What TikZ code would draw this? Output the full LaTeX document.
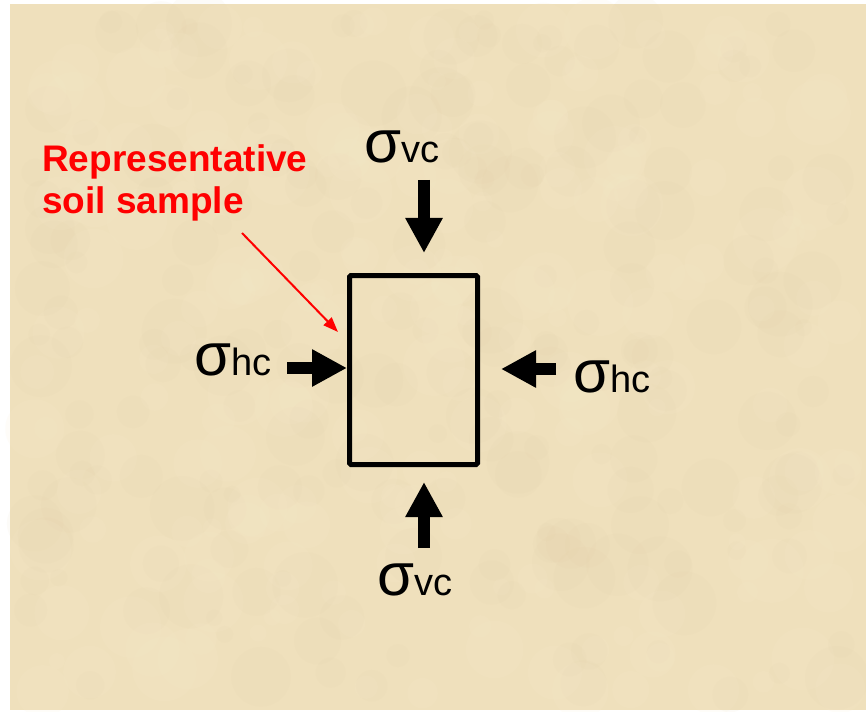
\documentclass[tikz,border=0pt]{standalone}
\usepackage{fontspec}
\setmainfont{Liberation Sans}
\usepackage{tikz}
\usetikzlibrary{positioning,arrows.meta}
\definecolor{parch}{RGB}{239,224,188}
\definecolor{parchdark}{RGB}{222,202,160}
\definecolor{parchlight}{RGB}{248,236,205}
\newcommand{\stresslab}[1]{{\fontsize{60}{60}\selectfont σ}{\fontsize{38}{38}\selectfont #1}}

\begin{document}
\begin{tikzpicture}[x=1pt, y=-1pt,
  sample/.style={draw, line width=5pt, rounded corners=1.5pt, minimum width=128pt, minimum height=189pt, inner sep=0pt},
  lab/.style={inner sep=0pt, anchor=base west},
  push/.style={line width=12pt, -{Triangle[length=35pt, width=35pt]}},
  ptr/.style={red, line width=2pt, -{Triangle[length=15pt, width=11pt]}}]
% page and parchment
\useasboundingbox (0,0) rectangle (866,711);
\fill[white] (0,0) rectangle (866,711);
\fill[parch] (10,4) rectangle (866,710);
\pgfmathsetseed{11}
\foreach \i in {1,...,220} {
  \pgfmathsetmacro{\px}{30+rnd*820}
  \pgfmathsetmacro{\py}{20+rnd*675}
  \pgfmathsetmacro{\pr}{8+rnd*25}
  \fill[parchdark, opacity=0.07] (\px,\py) circle[radius=\pr];
}
\foreach \i in {1,...,220} {
  \pgfmathsetmacro{\px}{30+rnd*820}
  \pgfmathsetmacro{\py}{20+rnd*675}
  \pgfmathsetmacro{\pr}{8+rnd*25}
  \fill[parchlight, opacity=0.12] (\px,\py) circle[radius=\pr];
}
% soil sample
\node[sample] (box) at (413.5,370) {};
% stresses
\node[lab] (svct) at (364,163) {\stresslab{vc}};
\node[lab] (svcb) at (377,595) {\stresslab{vc}};
\node[lab] (shcl) at (194,375) {\stresslab{hc}};
\node[lab] (shcr) at (573,392) {\stresslab{hc}};
\coordinate (vt0) at (424,180); \coordinate (vt1) at (424,253);
\coordinate (vb0) at (424,548); \coordinate (vb1) at (424,482);
\coordinate (hl0) at (287,368); \coordinate (hl1) at (347,368);
\coordinate (hr0) at (556,369); \coordinate (hr1) at (501,369);
\draw[push] (vt0) -- (vt1);
\draw[push] (vb0) -- (vb1);
\draw[push] (hl0) -- (hl1);
\draw[push] (hr0) -- (hr1);
% label
\node[red, font=\bfseries\fontsize{37}{42}\selectfont, align=left, anchor=north west, inner sep=0pt] (rep) at (42,144) {Representative\\soil sample};
\coordinate (p0) at (242,233); \coordinate (p1) at (338,332);
\draw[ptr] (p0) -- (p1);
\end{tikzpicture}
\end{document}
